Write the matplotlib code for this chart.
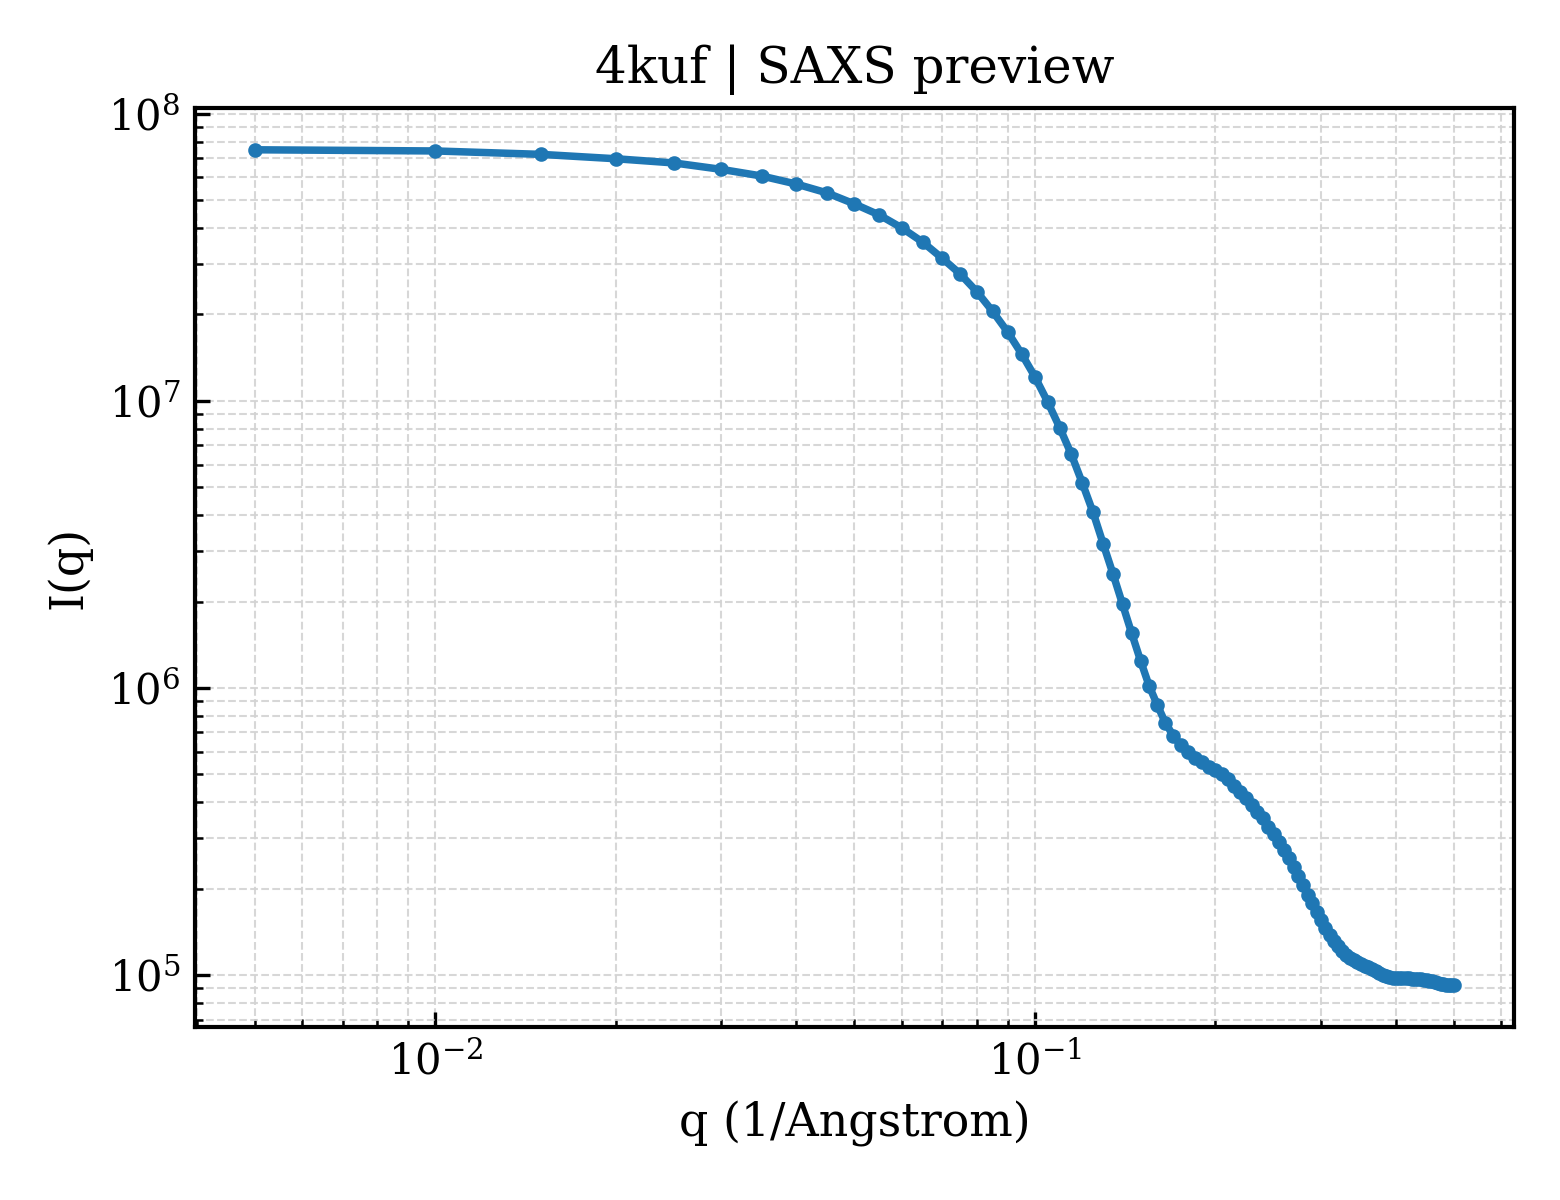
import numpy as np
import matplotlib
matplotlib.use('Agg')
import matplotlib.pyplot as plt

plt.rcParams['font.family'] = 'serif'
plt.rcParams['font.serif'] = ['DejaVu Serif']
plt.rcParams['mathtext.fontset'] = 'dejavuserif'

# q grid (1/Angstrom), 0.005 steps
q = [0.005, 0.010, 0.015, 0.020, 0.025, 0.030, 0.035, 0.040, 0.045, 0.050,
     0.055, 0.060, 0.065, 0.070, 0.075, 0.080, 0.085, 0.090, 0.095, 0.100,
     0.105, 0.110, 0.115, 0.120, 0.125, 0.130, 0.135, 0.140, 0.145, 0.150,
     0.155, 0.160, 0.165, 0.170, 0.175, 0.180, 0.185, 0.190, 0.195, 0.200,
     0.205, 0.210, 0.215, 0.220, 0.225, 0.230, 0.235, 0.240, 0.245, 0.250,
     0.255, 0.260, 0.265, 0.270, 0.275, 0.280, 0.285, 0.290, 0.295, 0.300,
     0.305, 0.310, 0.315, 0.320, 0.325, 0.330, 0.335, 0.340, 0.345, 0.350,
     0.355, 0.360, 0.365, 0.370, 0.375, 0.380, 0.385, 0.390, 0.395, 0.400,
     0.405, 0.410, 0.415, 0.420, 0.425, 0.430, 0.435, 0.440, 0.445, 0.450,
     0.455, 0.460, 0.465, 0.470, 0.475, 0.480, 0.485, 0.490, 0.495, 0.500]

# intensity I(q)
intensity = [7.49e7, 7.42e7, 7.22e7, 6.97e7, 6.74e7, 6.40e7, 6.07e7, 5.69e7, 5.30e7, 4.85e7,
             4.44e7, 4.00e7, 3.57e7, 3.14e7, 2.77e7, 2.40e7, 2.05e7, 1.74e7, 1.458e7, 1.212e7,
             9.92e6, 8.06e6, 6.51e6, 5.16e6, 4.09e6, 3.17e6, 2.49e6, 1.956e6, 1.550e6, 1.245e6,
             1.019e6, 8.72e5, 7.57e5, 6.83e5, 6.33e5, 5.97e5, 5.72e5, 5.54e5, 5.32e5, 5.18e5,
             5.01e5, 4.81e5, 4.57e5, 4.36e5, 4.15e5, 3.91e5, 3.71e5, 3.52e5, 3.29e5, 3.10e5,
             2.90e5, 2.73e5, 2.55e5, 2.38e5, 2.21e5, 2.06e5, 1.90e5, 1.78e5, 1.666e5, 1.557e5,
             1.457e5, 1.381e5, 1.316e5, 1.259e5, 1.215e5, 1.177e5, 1.152e5, 1.130e5, 1.110e5, 1.092e5,
             1.077e5, 1.064e5, 1.049e5, 1.030e5, 1.016e5, 1.002e5, 9.92e4, 9.84e4, 9.79e4, 9.76e4,
             9.75e4, 9.74e4, 9.74e4, 9.74e4, 9.73e4, 9.72e4, 9.70e4, 9.67e4, 9.65e4, 9.62e4,
             9.58e4, 9.53e4, 9.47e4, 9.41e4, 9.35e4, 9.31e4, 9.27e4, 9.24e4, 9.22e4, 9.21e4]

fig, ax = plt.subplots(figsize=(5.2, 4), dpi=300)
fig.subplots_adjust(left=0.125, right=0.9705, top=0.91, bottom=0.144)

ax.plot(q, intensity, '-o', color='#1f77b4', lw=1.8, ms=2.5)
ax.set_xscale('log')
ax.set_yscale('log')

ax.set_xlabel('q (1/Angstrom)', fontsize=11)
ax.set_ylabel('I(q)', fontsize=11)
ax.set_title('4kuf | SAXS preview', fontsize=12)

ax.grid(True, which='both', ls='--', lw=0.5, color='lightgray', alpha=0.9)
ax.tick_params(which='both', direction='in', labelsize=10)
for s in ax.spines.values():
    s.set_linewidth(1.0)

fig.savefig('out.png', dpi=300)
